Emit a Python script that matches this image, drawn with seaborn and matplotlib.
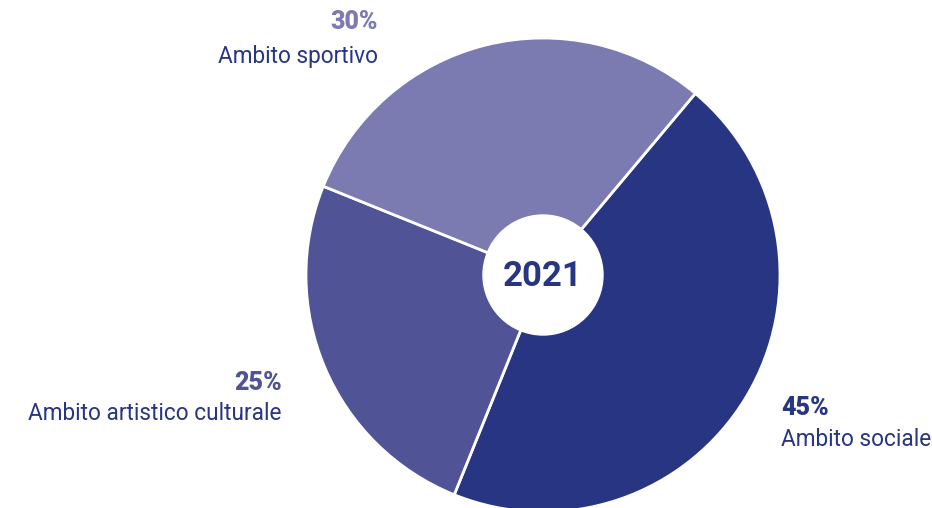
import numpy as np
import pandas as pd
import matplotlib
matplotlib.use("Agg")
import matplotlib.pyplot as plt
import seaborn as sns

# dati
ambiti = ["Ambito sociale", "Ambito artistico culturale", "Ambito sportivo"]
percentuali = [45, 25, 30]
colori = ["#283583", "#505497", "#7b7bb1"]
anno = "2021"

sns.set_theme(style="white")
plt.rcParams["font.family"] = ["Roboto", "DejaVu Sans"]

fig = plt.figure(figsize=(9.32, 5.08), dpi=100)
ax = fig.add_axes([0, 0, 1, 1])

# centro e raggio in pixel (y verso l'alto)
cx, cy, r = 543, 508 - 275, 237
wedges, _ = ax.pie(percentuali, colors=colori, startangle=50, counterclock=False,
                   center=(cx, cy), radius=r,
                   wedgeprops=dict(edgecolor="white", linewidth=2))
ax.add_patch(plt.Circle((cx, cy), 60, color="white", zorder=5))
ax.text(cx, cy - 2, anno, ha="center", va="center", fontsize=25,
        fontweight="bold", color="#283583", zorder=6)

ax.set_xlim(0, 932)
ax.set_ylim(0, 508)
ax.set_aspect("equal")
ax.axis("off")

# etichette
pos = {"Ambito sportivo": (378, 22, 56, "right"),
       "Ambito artistico culturale": (282, 383, 414, "right"),
       "Ambito sociale": (781, 408, 440, "left")}
for nome, p, c in zip(ambiti, percentuali, colori):
    x, yp, yl, ha = pos[nome]
    ax.text(x, 508 - yp, f"{p}%", ha=ha, va="center", fontsize=18,
            fontweight="heavy", color=c)
    ax.text(x, 508 - yl, nome, ha=ha, va="center", fontsize=16.3,
            color="#283583")

fig.savefig("out.png", dpi=100)
